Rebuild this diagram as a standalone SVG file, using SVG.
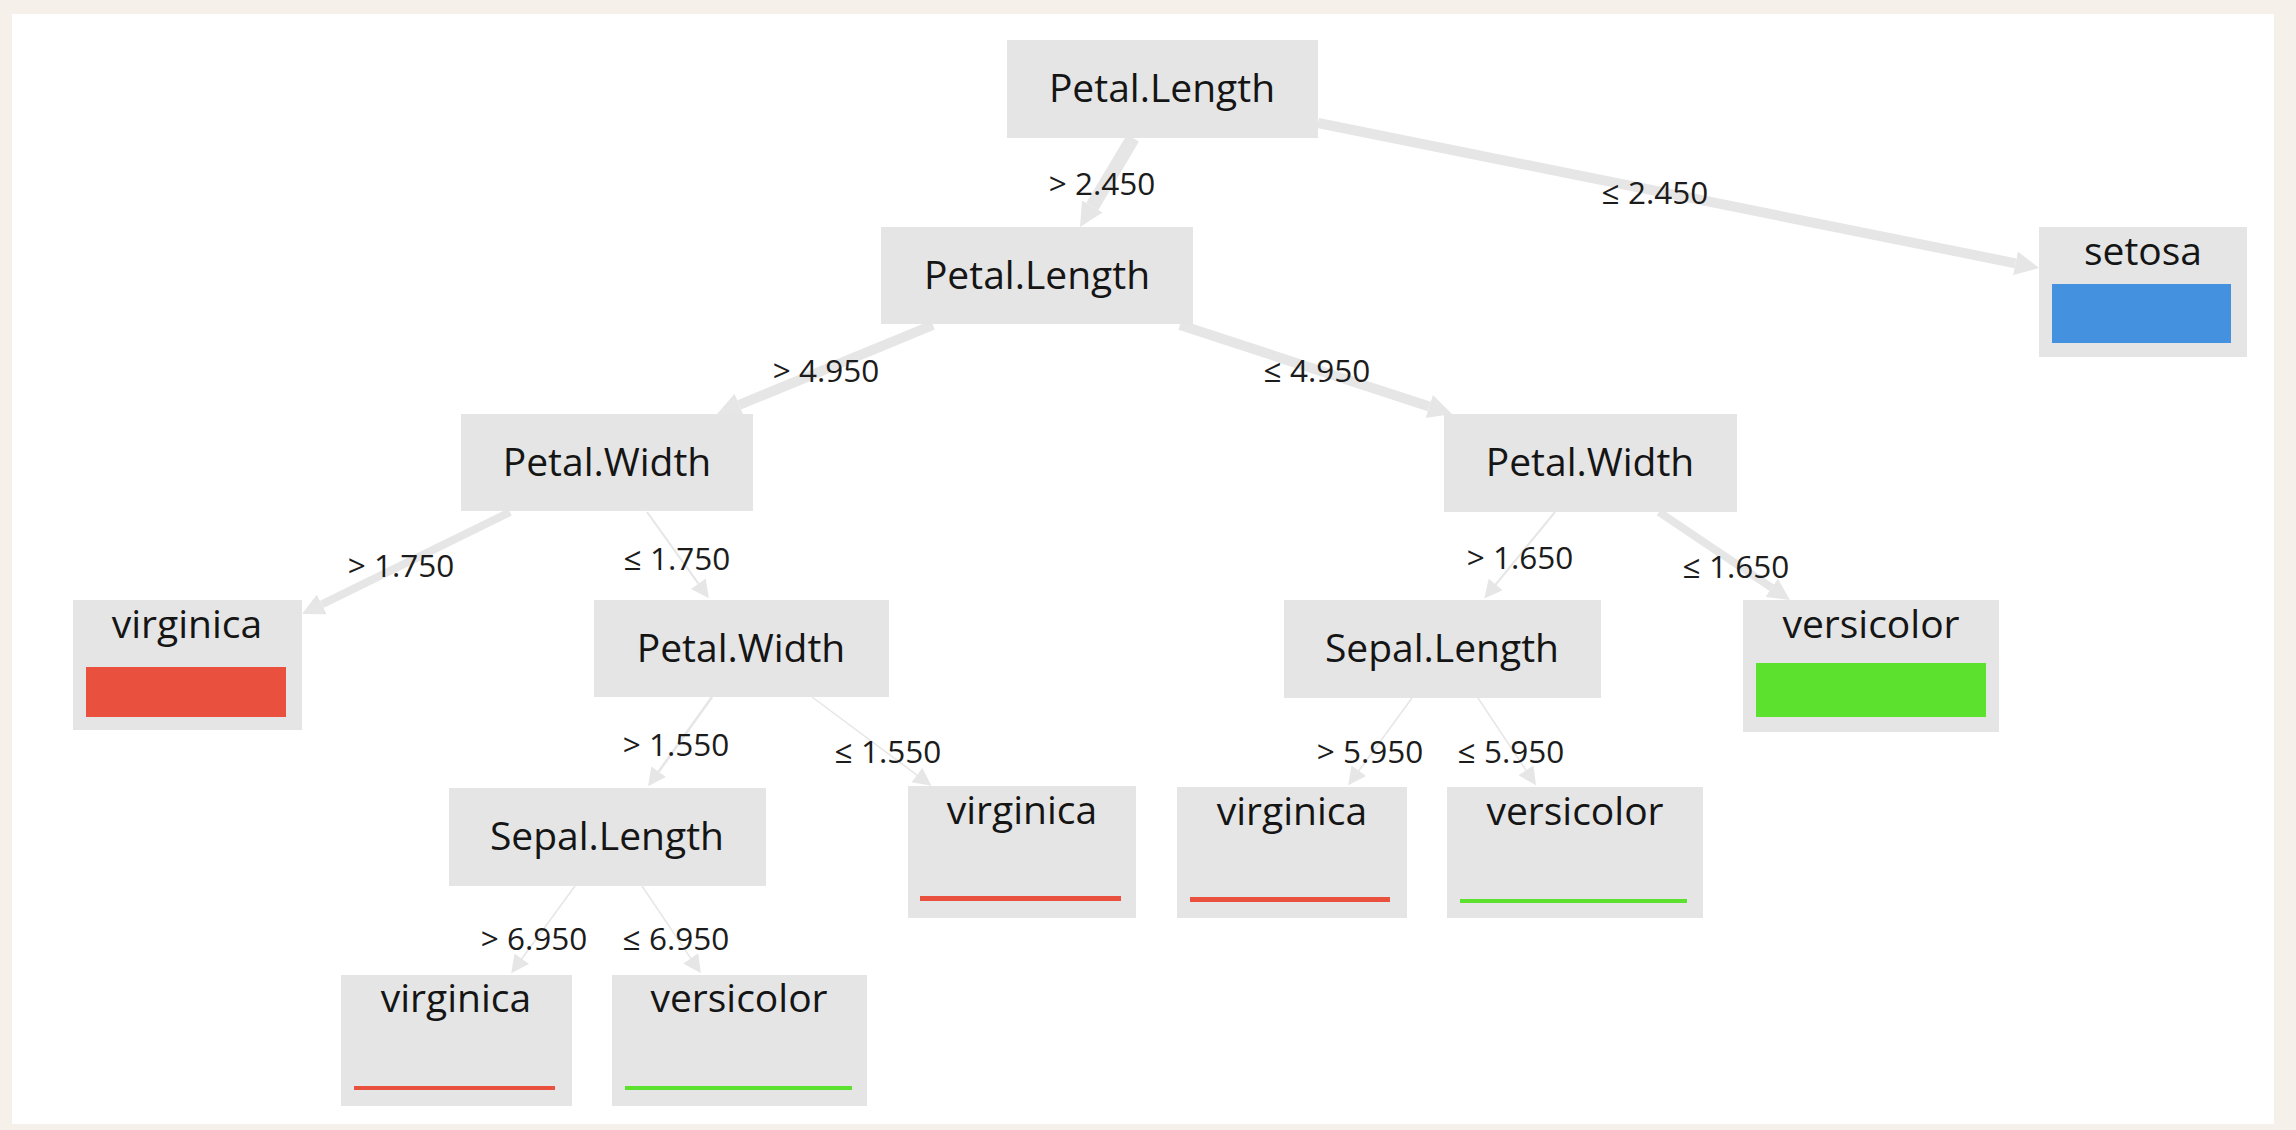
<svg xmlns="http://www.w3.org/2000/svg" width="2296" height="1130" viewBox="0 0 2296 1130">
<style>
.node rect.box{fill:#e5e5e5}
.node text{font-family:"Open Sans","DejaVu Sans",sans-serif;font-size:39px;fill:#151515;text-anchor:middle}
.lbl{font-family:"Open Sans","DejaVu Sans",sans-serif;font-size:31.5px;fill:#1c1c1c;text-anchor:middle}
.edges line{stroke:#e6e6e6;fill:none}
.red{fill:#e9503e}.green{fill:#5ce22e}.blue{fill:#4491e0}
</style>
<defs>
<marker id="ahL" viewBox="0 0 20 20" refX="0" refY="10" markerWidth="24" markerHeight="28" markerUnits="userSpaceOnUse" orient="auto"><path d="M0,0 L20,10 L0,20 z" fill="#e6e6e6"/></marker>
<marker id="ahM" viewBox="0 0 20 20" refX="0" refY="10" markerWidth="22" markerHeight="22" markerUnits="userSpaceOnUse" orient="auto"><path d="M0,0 L20,10 L0,20 z" fill="#e6e6e6"/></marker>
<marker id="ahS" viewBox="0 0 20 20" refX="0" refY="10" markerWidth="20" markerHeight="18" markerUnits="userSpaceOnUse" orient="auto"><path d="M0,0 L20,10 L0,20 z" fill="#e6e6e6"/></marker>
</defs>
<rect x="0" y="0" width="2296" height="1130" fill="#f5f1ea"/>
<rect x="12" y="14" width="2262" height="1110" fill="#ffffff"/>

<g id="connectors" class="edges">
<line x1="1133" y1="138" x2="1092.3" y2="206.4" stroke-width="14" marker-end="url(#ahL)"/>
<line x1="1318" y1="123" x2="2015.5" y2="263.3" stroke-width="10" marker-end="url(#ahL)"/>
<line x1="933" y1="325" x2="739.2" y2="404.9" stroke-width="10" marker-end="url(#ahL)"/>
<line x1="1180" y1="325" x2="1429.2" y2="406.5" stroke-width="10" marker-end="url(#ahL)"/>
<line x1="510" y1="512" x2="321.8" y2="604.3" stroke-width="8" marker-end="url(#ahM)"/>
<line x1="647" y1="512" x2="698.4" y2="583.7" stroke-width="2" marker-end="url(#ahS)"/>
<line x1="1555" y1="512" x2="1495.7" y2="584.5" stroke-width="2" marker-end="url(#ahS)"/>
<line x1="1659" y1="512" x2="1771.7" y2="587.7" stroke-width="8" marker-end="url(#ahM)"/>
<line x1="712" y1="697" x2="658.6" y2="771.7" stroke-width="2.5" marker-end="url(#ahS)"/>
<line x1="812" y1="697" x2="917" y2="775.1" stroke-width="1.5" marker-end="url(#ahS)"/>
<line x1="575" y1="886" x2="521.8" y2="958.8" stroke-width="1.5" marker-end="url(#ahS)"/>
<line x1="642" y1="886" x2="690.8" y2="958.4" stroke-width="1.5" marker-end="url(#ahS)"/>
<line x1="1412" y1="698" x2="1358.8" y2="770.8" stroke-width="1.5" marker-end="url(#ahS)"/>
<line x1="1478" y1="698" x2="1526" y2="770.3" stroke-width="1.5" marker-end="url(#ahS)"/>
<text class="lbl" x="1102" y="195">&gt; 2.450</text>
<text class="lbl" x="1655" y="204">≤ 2.450</text>
<text class="lbl" x="826" y="382">&gt; 4.950</text>
<text class="lbl" x="1317" y="382">≤ 4.950</text>
<text class="lbl" x="401" y="577">&gt; 1.750</text>
<text class="lbl" x="677" y="570">≤ 1.750</text>
<text class="lbl" x="1520" y="569">&gt; 1.650</text>
<text class="lbl" x="1736" y="578">≤ 1.650</text>
<text class="lbl" x="676" y="756">&gt; 1.550</text>
<text class="lbl" x="888" y="763">≤ 1.550</text>
<text class="lbl" x="534" y="950">&gt; 6.950</text>
<text class="lbl" x="676" y="950">≤ 6.950</text>
<text class="lbl" x="1370" y="763">&gt; 5.950</text>
<text class="lbl" x="1511" y="763">≤ 5.950</text>
</g>

<g id="n-root" class="node"><rect class="box" x="1007" y="40" width="311" height="98"/><text x="1162" y="102">Petal.Length</text></g>
<g id="n-pl2" class="node"><rect class="box" x="881" y="227" width="312" height="97"/><text x="1037" y="289">Petal.Length</text></g>
<g id="n-setosa" class="node"><rect class="box" x="2039" y="227" width="208" height="130"/><text x="2143" y="265">setosa</text><rect class="blue" x="2052" y="284" width="179" height="59"/></g>
<g id="n-pw-left" class="node"><rect class="box" x="461" y="414" width="292" height="97"/><text x="607" y="476">Petal.Width</text></g>
<g id="n-pw-right" class="node"><rect class="box" x="1444" y="414" width="293" height="98"/><text x="1590" y="476">Petal.Width</text></g>
<g id="n-virginica-1" class="node"><rect class="box" x="73" y="600" width="229" height="130"/><text x="187" y="638">virginica</text><rect class="red" x="86" y="667" width="200" height="50"/></g>
<g id="n-pw-mid" class="node"><rect class="box" x="594" y="600" width="295" height="97"/><text x="741" y="662">Petal.Width</text></g>
<g id="n-sl-right" class="node"><rect class="box" x="1284" y="600" width="317" height="98"/><text x="1442" y="662">Sepal.Length</text></g>
<g id="n-versicolor-1" class="node"><rect class="box" x="1743" y="600" width="256" height="132"/><text x="1871" y="638">versicolor</text><rect class="green" x="1756" y="663" width="230" height="54"/></g>
<g id="n-sl-left" class="node"><rect class="box" x="449" y="788" width="317" height="98"/><text x="607" y="850">Sepal.Length</text></g>
<g id="n-virginica-2" class="node"><rect class="box" x="908" y="786" width="228" height="132"/><text x="1022" y="824">virginica</text><rect class="red" x="920" y="896" width="201" height="5"/></g>
<g id="n-virginica-3" class="node"><rect class="box" x="1177" y="787" width="230" height="131"/><text x="1292" y="825">virginica</text><rect class="red" x="1190" y="897" width="200" height="5"/></g>
<g id="n-versicolor-2" class="node"><rect class="box" x="1447" y="787" width="256" height="131"/><text x="1575" y="825">versicolor</text><rect class="green" x="1460" y="899" width="227" height="4"/></g>
<g id="n-virginica-4" class="node"><rect class="box" x="341" y="975" width="231" height="131"/><text x="456" y="1012">virginica</text><rect class="red" x="354" y="1086" width="201" height="4"/></g>
<g id="n-versicolor-3" class="node"><rect class="box" x="612" y="975" width="255" height="131"/><text x="739" y="1012">versicolor</text><rect class="green" x="625" y="1086" width="227" height="4"/></g>
</svg>
